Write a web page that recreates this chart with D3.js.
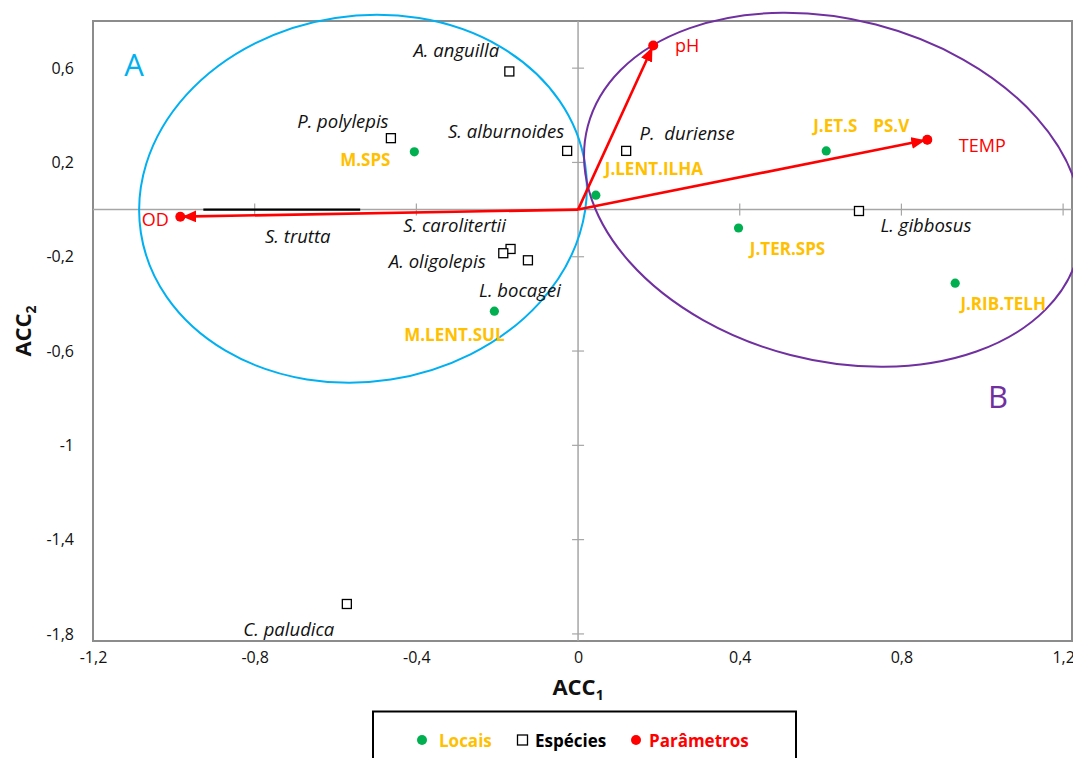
<!DOCTYPE html>
<html>
<head>
<meta charset="utf-8">
<script src="https://cdn.jsdelivr.net/npm/d3@7"></script>
<style>
  html, body { margin: 0; padding: 0; background: #fff; }
  svg { display: block; font-family: "Open Sans", "Noto Sans", sans-serif; }
</style>
</head>
<body>
<svg id="chart" width="1073" height="758"></svg>
<script>
// Axis ticks (ACC1 / ACC2)
const xTicks = [-1.2, -0.8, -0.4, 0, 0.4, 0.8, 1.2];
const xTickLabels = ["-1,2", "-0,8", "-0,4", "0", "0,4", "0,8", "1,2"];
const yTicks = [0.6, 0.2, -0.2, -0.6, -1, -1.4, -1.8];
const yTickLabels = ["0,6", "0,2", "-0,2", "-0,6", "-1", "-1,4", "-1,8"];

// Espécies (species scores)
const speciesNames = ["A. anguilla", "P. polylepis", "S. alburnoides", "P.  duriense",
  "S. carolitertii", "A. oligolepis", "L. bocagei", "L. gibbosus", "C. paludica"];
const speciesX = [-0.170, -0.463, -0.027, 0.119, -0.167, -0.185, -0.124, 0.695, -0.572];
const speciesY = [0.586, 0.303, 0.249, 0.249, -0.167, -0.185, -0.215, -0.006, -1.673];

// S. trutta drawn as a segment along ACC2 = 0
const truttaX = [-0.927, -0.539];
const truttaY = 0;

// Locais (site scores)
const siteNames = ["M.SPS", "J.LENT.ILHA", "J.ET.S", "PS.V", "J.TER.SPS", "J.RIB.TELH", "M.LENT.SUL"];
const siteX = [-0.405, 0.044, 0.614, 0.864, 0.397, 0.933, -0.207];
const siteY = [0.245, 0.061, 0.249, 0.296, -0.078, -0.312, -0.431];

// Parâmetros (environmental vectors)
const paramNames = ["pH", "TEMP", "OD"];
const paramX = [0.186, 0.864, -0.984];
const paramY = [0.696, 0.296, -0.030];

// Groups A and B (ellipses in axis units)
const groupNames = ["A", "B"];
const groupCX = [-0.532, 0.631];
const groupCY = [0.046, 0.084];
const groupRX = [0.556, 0.627];
const groupRY = [0.776, 0.724];
const groupRot = [-8.7, 14.5];

// ---- styling / layout ----
const COL = { site: "#FFC000", dot: "#00B050", red: "#FF0000", A: "#00B0F0", B: "#7030A0" };
const speciesLabelOff = [[-53, -14], [-48, -10], [-61, -13], [61, -11], [-56, -17], [-66, 15], [-8, 37], [67, 21], [-58, 32]];
const siteLabelOff = [[-49, 14], [58, -20], [9, -19], [-36, -8], [49, 27], [48, 27], [-40, 30]];
const paramLabelOff = [[34, 6], [55, 12], [-25, 9]];
const groupLabelPos = [[134, 76], [998, 408]];

const svg = d3.select("#chart");
const plot = { left: 93, right: 1072, top: 21, bottom: 641 };

const x = d3.scaleLinear().domain([-1.2, 1.222]).range([plot.left, plot.right]);
const y = d3.scaleLinear().domain([-1.83, 0.8]).range([plot.bottom, plot.top]);

// plot border
svg.append("rect")
  .attr("x", plot.left).attr("y", plot.top)
  .attr("width", plot.right - plot.left).attr("height", plot.bottom - plot.top)
  .attr("fill", "none").attr("stroke", "#8c8c8c").attr("stroke-width", 2);

// zero lines
svg.append("line").attr("x1", plot.left).attr("x2", plot.right)
  .attr("y1", y(0)).attr("y2", y(0)).attr("stroke", "#a6a6a6").attr("stroke-width", 1.5);
svg.append("line").attr("x1", x(0)).attr("x2", x(0))
  .attr("y1", plot.top).attr("y2", plot.bottom).attr("stroke", "#a6a6a6").attr("stroke-width", 1.5);

// cross tick marks on the zero lines
svg.append("g").selectAll("line").data(xTicks.filter(d => d !== 0 && d > -1.2)).join("line")
  .attr("x1", d => x(d)).attr("x2", d => x(d))
  .attr("y1", y(0) - 6).attr("y2", y(0) + 6)
  .attr("stroke", "#a6a6a6").attr("stroke-width", 1.2);
svg.append("g").selectAll("line").data(yTicks).join("line")
  .attr("x1", x(0) - 6).attr("x2", x(0) + 6)
  .attr("y1", d => y(d)).attr("y2", d => y(d))
  .attr("stroke", "#a6a6a6").attr("stroke-width", 1.2);

// tick labels via d3 axes placed along the plot edges
const xAxis = d3.axisBottom(x).tickValues(xTicks)
  .tickFormat((d, i) => xTickLabels[i]).tickSize(0).tickPadding(11);
const gx = svg.append("g").attr("transform", `translate(0,${plot.bottom})`).call(xAxis);
gx.select(".domain").remove();
gx.selectAll("text").attr("font-size", 16).attr("fill", "#111").attr("font-family", "Open Sans");

const yAxis = d3.axisLeft(y).tickValues(yTicks)
  .tickFormat((d, i) => yTickLabels[i]).tickSize(0).tickPadding(19);
const gy = svg.append("g").attr("transform", `translate(${plot.left},0)`).call(yAxis);
gy.select(".domain").remove();
gy.selectAll("text").attr("font-size", 16).attr("fill", "#111").attr("font-family", "Open Sans");

// axis titles
const xt = svg.append("text").attr("x", x(0)).attr("y", 695).attr("text-anchor", "middle")
  .attr("font-size", 22).attr("font-weight", "bold").attr("fill", "#111");
xt.append("tspan").text("ACC");
xt.append("tspan").text("1").attr("font-size", 14).attr("dy", 5);

const yt = svg.append("text").attr("transform", `translate(31,${(plot.top + plot.bottom) / 2}) rotate(-90)`)
  .attr("text-anchor", "middle").attr("font-size", 22).attr("font-weight", "bold").attr("fill", "#111");
yt.append("tspan").text("ACC");
yt.append("tspan").text("2").attr("font-size", 14).attr("dy", 5);

// group ellipses
groupNames.forEach((g, i) => {
  const cx = x(groupCX[i]), cy = y(groupCY[i]);
  const rx = x(groupCX[i] + groupRX[i]) - cx;
  const ry = cy - y(groupCY[i] + groupRY[i]);
  svg.append("ellipse")
    .attr("cx", 0).attr("cy", 0).attr("rx", rx).attr("ry", ry)
    .attr("transform", `translate(${cx},${cy}) rotate(${groupRot[i]})`)
    .attr("fill", "none").attr("stroke", COL[g]).attr("stroke-width", 2);
  svg.append("text").attr("x", groupLabelPos[i][0]).attr("y", groupLabelPos[i][1])
    .attr("text-anchor", "middle").attr("font-size", 31).attr("fill", COL[g]).text(g);
});

// S. trutta segment
svg.append("line")
  .attr("x1", x(truttaX[0])).attr("x2", x(truttaX[1]))
  .attr("y1", y(truttaY)).attr("y2", y(truttaY))
  .attr("stroke", "#000").attr("stroke-width", 2.2);
svg.append("text").attr("x", x(d3.mean(truttaX)) + 16).attr("y", y(truttaY) + 33)
  .attr("text-anchor", "middle").attr("font-size", 18.5).attr("font-style", "italic")
  .attr("fill", "#111").text("S. trutta");

// arrows for environmental parameters
const defs = svg.append("defs");
defs.append("marker").attr("id", "arrowhead")
  .attr("markerUnits", "userSpaceOnUse")
  .attr("viewBox", "0 0 14 12").attr("markerWidth", 14).attr("markerHeight", 12)
  .attr("refX", 16).attr("refY", 6).attr("orient", "auto")
  .append("path").attr("d", "M0,0 L14,6 L0,12 Z").attr("fill", COL.red);

const params = paramNames.map((n, i) => ({ n, px: paramX[i], py: paramY[i], off: paramLabelOff[i] }));
svg.append("g").selectAll("line").data(params).join("line")
  .attr("x1", x(0)).attr("y1", y(0))
  .attr("x2", d => x(d.px)).attr("y2", d => y(d.py))
  .attr("stroke", COL.red).attr("stroke-width", 2.6)
  .attr("marker-end", "url(#arrowhead)");

// species squares
const species = speciesNames.map((n, i) => ({ n, sx: speciesX[i], sy: speciesY[i], off: speciesLabelOff[i] }));
svg.append("g").selectAll("rect").data(species).join("rect")
  .attr("x", d => x(d.sx) - 4.5).attr("y", d => y(d.sy) - 4.5)
  .attr("width", 9).attr("height", 9)
  .attr("fill", "#fff").attr("stroke", "#000").attr("stroke-width", 1.3);
svg.append("g").selectAll("text").data(species).join("text")
  .attr("x", d => x(d.sx) + d.off[0]).attr("y", d => y(d.sy) + d.off[1])
  .attr("text-anchor", "middle").attr("font-size", 18.5).attr("font-style", "italic")
  .attr("fill", "#111").text(d => d.n).style("white-space", "pre");

// site dots
const sites = siteNames.map((n, i) => ({ n, sx: siteX[i], sy: siteY[i], off: siteLabelOff[i] }));
svg.append("g").selectAll("circle").data(sites).join("circle")
  .attr("cx", d => x(d.sx)).attr("cy", d => y(d.sy)).attr("r", 4.6)
  .attr("fill", COL.dot);
svg.append("g").selectAll("text").data(sites).join("text")
  .attr("x", d => x(d.sx) + d.off[0]).attr("y", d => y(d.sy) + d.off[1])
  .attr("text-anchor", "middle").attr("font-size", 17).attr("font-weight", "bold")
  .attr("fill", COL.site).text(d => d.n);

// parameter end points and labels
svg.append("g").selectAll("circle").data(params).join("circle")
  .attr("cx", d => x(d.px)).attr("cy", d => y(d.py)).attr("r", 5)
  .attr("fill", COL.red);
svg.append("g").selectAll("text").data(params).join("text")
  .attr("x", d => x(d.px) + d.off[0]).attr("y", d => y(d.py) + d.off[1])
  .attr("text-anchor", "middle").attr("font-size", 18)
  .attr("fill", COL.red).text(d => d.n);

// legend
const lg = svg.append("g");
lg.append("rect").attr("x", 373).attr("y", 711.5).attr("width", 423).attr("height", 70)
  .attr("fill", "#fff").attr("stroke", "#000").attr("stroke-width", 2);
lg.append("circle").attr("cx", 422).attr("cy", 740).attr("r", 5).attr("fill", COL.dot);
lg.append("text").attr("x", 439).attr("y", 746.5).attr("font-size", 17).attr("font-weight", "bold")
  .attr("fill", COL.site).text("Locais");
lg.append("rect").attr("x", 517.5).attr("y", 735).attr("width", 10).attr("height", 10)
  .attr("fill", "#fff").attr("stroke", "#000").attr("stroke-width", 1.3);
lg.append("text").attr("x", 535).attr("y", 746.5).attr("font-size", 17).attr("font-weight", "bold")
  .attr("fill", "#000").text("Espécies");
lg.append("circle").attr("cx", 636).attr("cy", 740).attr("r", 5).attr("fill", COL.red);
lg.append("text").attr("x", 649).attr("y", 746.5).attr("font-size", 17).attr("font-weight", "bold")
  .attr("fill", COL.red).text("Parâmetros");
</script>
</body>
</html>
